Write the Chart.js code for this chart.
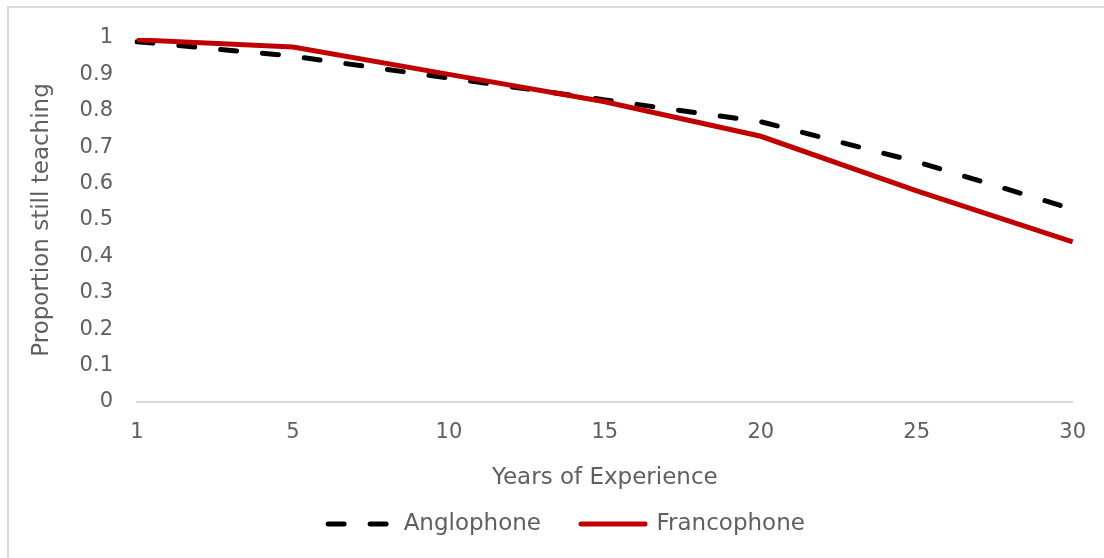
<!DOCTYPE html>
<html>
<head>
<meta charset="utf-8">
<script src="https://cdn.jsdelivr.net/npm/chart.js@4.4.1/dist/chart.umd.min.js"></script>
<style>
  html, body { margin: 0; padding: 0; background: #fff; }
  #wrap { position: relative; width: 1104px; height: 558px; overflow: hidden; }
  #frame { position: absolute; left: 7px; top: 6px; width: 1200px; height: 600px;
           border-top: 2px solid #d9d9d9; border-left: 2px solid #d9d9d9; }
  canvas { position: absolute; left: 0; top: 0; }
</style>
</head>
<body>
<div id="wrap">
  <div id="frame"></div>
  <canvas id="chart" width="1104" height="558"></canvas>
</div>
<script>
// data
const years = ['1', '5', '10', '15', '20', '25', '30'];
const anglophone = [0.99, 0.95, 0.89, 0.83, 0.77, 0.66, 0.53];
const francophone = [0.995, 0.975, 0.90, 0.825, 0.73, 0.58, 0.44];
const seriesNames = ['Anglophone', 'Francophone'];

const grey = '#5f5f5f';

Chart.defaults.font.family = "'DejaVu Sans', sans-serif";
Chart.defaults.color = grey;

const ctx = document.getElementById('chart').getContext('2d');
new Chart(ctx, {
    type: 'line',
    data: {
        labels: years,
        datasets: [
            {
                label: seriesNames[0],
                data: anglophone,
                borderColor: '#000000',
                backgroundColor: '#000000',
                borderWidth: 5,
                borderDash: [16, 26],
                borderCapStyle: 'round',
                pointRadius: 0,
                tension: 0,
                order: 1
            },
            {
                label: seriesNames[1],
                data: francophone,
                borderColor: '#c00000',
                backgroundColor: '#c00000',
                borderWidth: 5,
                borderCapStyle: 'butt',
                pointRadius: 0,
                tension: 0,
                order: 0
            }
        ]
    },
    options: {
        responsive: false,
        animation: false,
        layout: { padding: { left: 58, right: 29, top: 38, bottom: 12.5 } },
        scales: {
            x: {
                offset: false,
                grid: { display: false, drawTicks: false },
                border: { display: true, color: '#d9d9d9', width: 2 },
                ticks: { padding: 18, font: { size: 21 }, color: grey, maxRotation: 0, autoSkip: false },
                title: {
                    display: true,
                    text: 'Years of Experience',
                    font: { size: 23 },
                    color: grey,
                    padding: { top: 0, bottom: -19 }
                },
                afterFit: function (scale) { scale.height = 70.5; }
            },
            y: {
                min: 0,
                max: 1,
                grid: { display: false, drawTicks: false },
                border: { display: false },
                ticks: {
                    stepSize: 0.1,
                    padding: 24,
                    font: { size: 21 },
                    color: grey,
                    callback: v => String(Number(v.toFixed(1)))
                },
                title: {
                    display: true,
                    text: 'Proportion still teaching',
                    font: { size: 23 },
                    color: grey,
                    padding: { top: -30, bottom: 0 }
                },
                afterFit: function (scale) { scale.width = 79; }
            }
        },
        plugins: {
            tooltip: { enabled: false },
            legend: {
                position: 'bottom',
                labels: {
                    usePointStyle: true,
                    pointStyleWidth: 64,
                    padding: 40,
                    font: { size: 23 },
                    color: grey,
                    generateLabels: function (chart) {
                        return chart.data.datasets.map((ds, i) => ({
                            text: ds.label,
                            fillStyle: ds.borderColor,
                            strokeStyle: ds.borderColor,
                            lineWidth: ds.borderWidth,
                            lineDash: ds.borderDash || [],
                            lineCap: 'round',
                            pointStyle: 'line',
                            fontColor: grey,
                            hidden: false,
                            datasetIndex: i
                        }));
                    }
                }
            }
        }
    }
});
</script>
</body>
</html>
